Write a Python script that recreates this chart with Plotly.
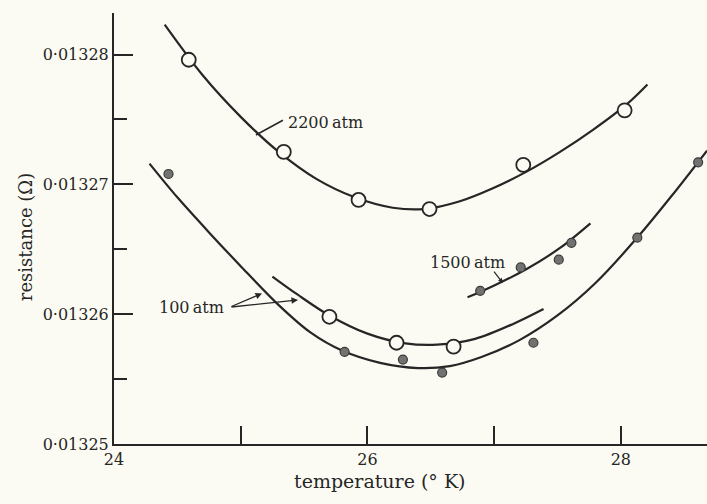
import plotly.graph_objects as go

# ---- data (resistance in ohm, temperature in K) ----
# 2200 atm: drawn curve and measured points (open circles)
c2200_x = [24.40, 24.70, 25.00, 25.30, 25.60, 25.90, 26.20, 26.45, 26.73, 26.99, 27.26, 27.52, 27.78, 28.05, 28.21]
c2200_y = [0.0132823, 0.0132784, 0.0132752, 0.0132725, 0.0132704, 0.0132690, 0.0132682, 0.0132681, 0.0132687,
           0.0132697, 0.0132710, 0.0132725, 0.0132742, 0.0132762, 0.0132777]
p2200_x = [24.59, 25.34, 25.93, 26.49, 27.23, 28.03]
p2200_y = [0.0132796, 0.0132725, 0.0132688, 0.0132681, 0.0132715, 0.0132757]

# 100 atm, lower curve (filled dots)
c100a_x = [24.28, 24.50, 24.75, 25.00, 25.30, 25.55, 25.80, 26.10, 26.40, 26.65, 26.90, 27.20, 27.50, 27.80, 28.13,
           28.40, 28.68]
c100a_y = [0.0132716, 0.0132690, 0.0132663, 0.0132637, 0.0132607, 0.0132586, 0.0132572, 0.01325625, 0.01325585,
           0.0132560, 0.0132567, 0.0132580, 0.0132599, 0.0132624, 0.0132659, 0.0132691, 0.0132726]
p100a_x = [24.43, 25.82, 26.28, 26.59, 27.31, 28.13, 28.61]
p100a_y = [0.0132708, 0.0132571, 0.0132565, 0.0132555, 0.0132578, 0.0132659, 0.0132717]

# 100 atm, upper curve (open circles)
c100b_x = [25.25, 25.45, 25.70, 26.00, 26.30, 26.55, 26.85, 27.15, 27.39]
c100b_y = [0.0132629, 0.0132615, 0.0132599, 0.0132585, 0.01325775, 0.01325765, 0.0132581, 0.01325925, 0.0132604]
p100b_x = [25.70, 26.23, 26.68]
p100b_y = [0.0132598, 0.0132578, 0.0132575]

# 1500 atm (filled dots)
c1500_x = [26.79, 26.89, 27.26, 27.52, 27.76]
c1500_y = [0.0132613, 0.0132617, 0.0132635, 0.0132651, 0.0132670]
p1500_x = [26.89, 27.21, 27.51, 27.61]
p1500_y = [0.0132618, 0.0132636, 0.0132642, 0.0132655]

x_tickvals = [24, 25, 26, 27, 28]
x_ticktext = ["24", "", "26", "", "28"]
y_tickvals = [0.01325, 0.01326, 0.01327, 0.01328]
y_ticktext = ["0·01325", "0·01326", "0·01327", "0·01328"]
y_minor = [0.013255, 0.013265, 0.013275]

INK = "#262626"
BG = "#fbfbf3"
FONT = "DejaVu Serif"

fig = go.Figure()

for cx, cy in [(c2200_x, c2200_y), (c100a_x, c100a_y), (c100b_x, c100b_y), (c1500_x, c1500_y)]:
    fig.add_trace(go.Scatter(x=cx, y=cy, mode="lines",
                             line=dict(color=INK, width=2.2, shape="spline", smoothing=0.9),
                             hoverinfo="skip", showlegend=False))

for px, py in [(p100a_x, p100a_y), (p1500_x, p1500_y)]:
    fig.add_trace(go.Scatter(x=px, y=py, mode="markers",
                             marker=dict(size=9, color="#727270", line=dict(color="#3a3a38", width=1.2)),
                             showlegend=False))

for px, py in [(p2200_x, p2200_y), (p100b_x, p100b_y)]:
    fig.add_trace(go.Scatter(x=px, y=py, mode="markers",
                             marker=dict(size=14, color=BG, line=dict(color=INK, width=1.8)),
                             showlegend=False))

annfont = dict(family=FONT, size=16, color=INK)
# 2200 atm leader line
fig.add_annotation(x=25.12, y=0.0132738, ax=25.345, ay=0.0132750, axref="x", ayref="y",
                   text="", showarrow=True, arrowhead=0, arrowwidth=1.5, arrowcolor=INK)
fig.add_annotation(x=25.36, y=0.0132748, text="2200\u2009atm", showarrow=False, xanchor="left",
                   yanchor="middle", font=annfont)
# 100 atm arrows
fig.add_annotation(x=25.168, y=0.0132616, ax=24.915, ay=0.01326054, axref="x", ayref="y",
                   text="", showarrow=True, arrowhead=2, arrowsize=1, arrowwidth=1.3, arrowcolor=INK)
fig.add_annotation(x=25.452, y=0.0132611, ax=24.915, ay=0.01326054, axref="x", ayref="y",
                   text="", showarrow=True, arrowhead=2, arrowsize=1, arrowwidth=1.3, arrowcolor=INK)
fig.add_annotation(x=24.88, y=0.01326054, text="100\u2009atm", showarrow=False, xanchor="right",
                   yanchor="middle", font=annfont)
# 1500 atm arrow
fig.add_annotation(x=27.069, y=0.0132624, ax=26.99, ay=0.0132634, axref="x", ayref="y",
                   text="", showarrow=True, arrowhead=2, arrowsize=0.8, arrowwidth=1.2, arrowcolor=INK)
fig.add_annotation(x=26.793, y=0.013264, text="1500\u2009atm", showarrow=False, xanchor="center",
                   yanchor="middle", font=annfont)

# axis titles
fig.add_annotation(xref="paper", yref="paper", x=0.4486, y=-0.086, text="temperature (° K)",
                   showarrow=False, xanchor="center", yanchor="middle",
                   font=dict(family=FONT, size=19, color=INK))
fig.add_annotation(xref="paper", yref="paper", x=-0.150, y=0.48, text="resistance (Ω)", textangle=-90,
                   showarrow=False, xanchor="center", yanchor="middle",
                   font=dict(family=FONT, size=18, color=INK))

fig.update_layout(
    width=707, height=504,
    margin=dict(l=114, r=0, t=13, b=60),
    paper_bgcolor=BG, plot_bgcolor=BG,
    font=dict(family=FONT, size=16, color=INK),
    showlegend=False,
)
fig.update_xaxes(range=[24, 28.68], tickvals=x_tickvals, ticktext=x_ticktext, automargin=False,
                 ticks="inside", ticklen=18, tickwidth=1.5, tickcolor=INK,
                 showline=True, linecolor=INK, linewidth=2, showgrid=False, zeroline=False,
                 tickfont=dict(family=FONT, size=16, color=INK))
fig.update_yaxes(range=[0.01325, 0.0132832], tickvals=y_tickvals, ticktext=y_ticktext, automargin=False,
                 ticks="inside", ticklen=19, tickwidth=1.5, tickcolor=INK,
                 minor=dict(tickvals=y_minor, ticks="inside", ticklen=13, tickwidth=1.5, tickcolor=INK),
                 showline=True, linecolor=INK, linewidth=2, showgrid=False, zeroline=False,
                 tickfont=dict(family=FONT, size=16, color=INK))

fig.write_html("out.html", config={"displayModeBar": False},
               post_script="document.body.style.margin='0';document.body.style.overflow='hidden';"
                           "document.body.style.background='" + BG + "';")
